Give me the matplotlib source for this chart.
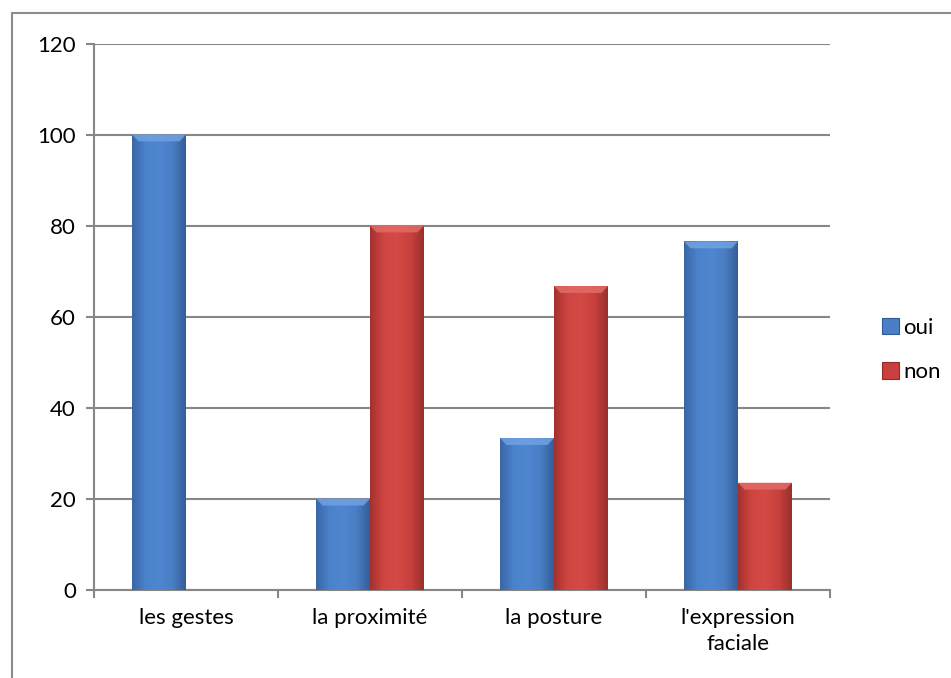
import matplotlib
matplotlib.use("Agg")
import matplotlib.pyplot as plt
import numpy as np
from matplotlib.patches import Rectangle
from matplotlib.colors import LinearSegmentedColormap

categories = ["les gestes", "la proximité", "la posture", "l'expression\nfaciale"]
series_names = ["oui", "non"]
oui = [100, 20, 33.3, 76.5]
non = [0, 80, 66.7, 23.5]
yticks = [0, 20, 40, 60, 80, 100, 120]

plt.rcParams['font.family'] = ['Lato', 'DejaVu Sans']

W, H = 951, 678
fig = plt.figure(figsize=(W / 100, H / 100), dpi=100)
fig.patch.set_facecolor("white")

# outer chart frame
fig.add_artist(Rectangle((12 / W, -0.05), 1.1, 1 - 13 / H + 0.05, transform=fig.transFigure,
                         fill=False, edgecolor="#8c8c8c", linewidth=1.5))

ax = fig.add_axes([94 / W, 1 - 589.7 / H, (830 - 94) / W, (589.7 - 43.5) / H])
ax.set_xlim(0, 4)
ax.set_ylim(0, 120)

x = np.arange(len(categories)) + 0.5
bw = 0.293
blue_cmap = LinearSegmentedColormap.from_list("b", ["#3a66a3", "#4a82cc", "#4f86d0", "#4a7ec4", "#335e98"])
red_cmap = LinearSegmentedColormap.from_list("r", ["#a3312f", "#cf4541", "#d44a46", "#c8413e", "#98302d"])
bars_o = ax.bar(x - bw / 2, oui, bw, color="#4a7ec6", zorder=3, linewidth=0)
bars_n = ax.bar(x + bw / 2, non, bw, color="#c8403d", zorder=3, linewidth=0)

grad = np.linspace(0, 1, 256).reshape(1, -1)
for bars, cmap, light in ((bars_o, blue_cmap, "#6fa2e4"), (bars_n, red_cmap, "#e36b67")):
    for p in bars:
        h = p.get_height()
        if h <= 0:
            continue
        x0, w = p.get_x(), p.get_width()
        im = ax.imshow(grad, cmap=cmap, aspect="auto", extent=(x0, x0 + w, 0, h),
                       zorder=4, interpolation="bicubic")
        im.set_clip_path(p)
        # top bevel
        ax.add_patch(plt.Polygon([(x0, h), (x0 + w, h), (x0 + w - 0.035, h - 1.5), (x0 + 0.035, h - 1.5)],
                                 closed=True, facecolor=light, edgecolor="none", zorder=5, alpha=0.85))

ax.set_xlim(0, 4)
ax.set_ylim(0, 120)

ax.set_yticks(yticks)
ax.set_yticklabels([str(v) for v in yticks])
ax.yaxis.grid(True, color="#878787", linewidth=1.5)
ax.set_axisbelow(True)

ax.set_xticks([0, 1, 2, 3, 4])
ax.set_xticklabels([])
ax.set_xticks(x, minor=True)
ax.set_xticklabels(categories, minor=True)
ax.tick_params(axis="x", which="minor", length=0, pad=13, labelsize=16, colors="black")
ax.tick_params(axis="x", which="major", length=6, width=1.5, color="#878787", direction="out")
ax.tick_params(axis="y", length=6, width=1.5, color="#878787", direction="out", labelsize=16, pad=7)
for lab in ax.get_xticklabels(minor=True):
    lab.set_linespacing(1.4)

for s in ["top", "right"]:
    ax.spines[s].set_visible(False)
for s in ["left", "bottom"]:
    ax.spines[s].set_color("#878787")
    ax.spines[s].set_linewidth(1.5)

handles = [Rectangle((0, 0), 1, 1, facecolor="#4a7ec6", edgecolor="#2f5a94", linewidth=0.8),
           Rectangle((0, 0), 1, 1, facecolor="#c8403d", edgecolor="#922a28", linewidth=0.8)]
fig.legend(handles, series_names, loc="center left", bbox_to_anchor=(871 / W, 1 - 350 / H),
           frameon=False, fontsize=16, handlelength=0.75, handleheight=0.75,
           handletextpad=0.2, labelspacing=1.1, borderpad=0)

fig.savefig("out.png", dpi=100, facecolor="white")
